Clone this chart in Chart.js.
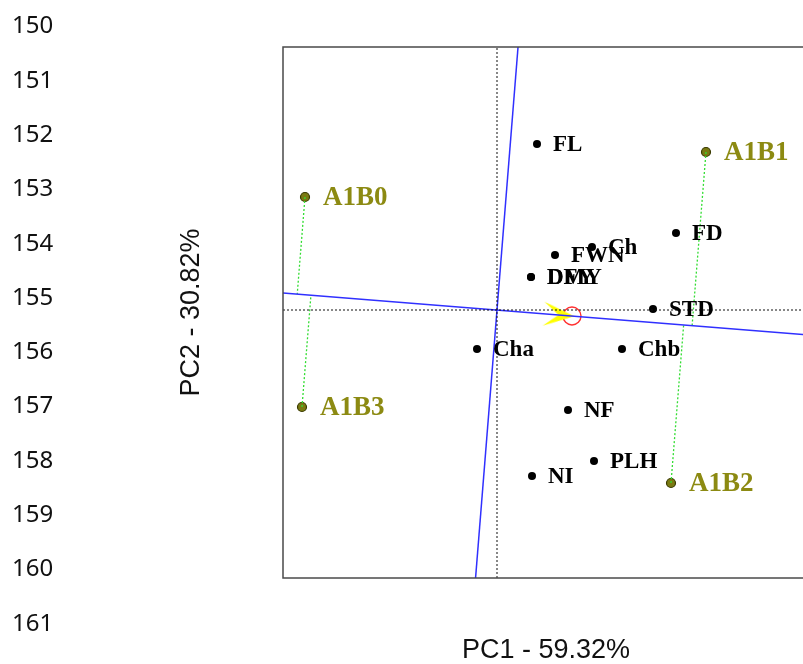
<!DOCTYPE html>
<html>
<head>
<meta charset="utf-8">
<script src="https://cdn.jsdelivr.net/npm/chart.js@4.4.0/dist/chart.umd.min.js"></script>
<style>
html, body { margin: 0; padding: 0; background: #fff; overflow: hidden; }
#wrap { position: relative; width: 803px; height: 664px; overflow: hidden; }
#biplot { position: absolute; left: 0; top: 0; }
.lineno { position: absolute; left: 12px; font-family: 'Noto Sans'; font-size: 24px; line-height: 24px; color: #111; }
</style>
</head>
<body>
<div id="wrap">
	<canvas id="biplot" width="809" height="664"></canvas>
</div>
<script>
// document line numbers down the left margin
var lineNumbers = [150, 151, 152, 153, 154, 155, 156, 157, 158, 159, 160, 161];

// traits (black points)
var traitNames = ['FL', 'FD', 'FWN', 'Ch', 'DMY', 'DFY', 'STD', 'Cha', 'Chb', 'NF', 'PLH', 'NI'];
var traitPC1   = [0.40, 1.79, 0.58, 0.95, 0.34, 0.34, 1.56, -0.20, 1.25, 0.71, 0.97, 0.35];
var traitPC2   = [1.66, 0.77, 0.55, 0.63, 0.33, 0.33, 0.01, -0.39, -0.39, -1.00, -1.51, -1.66];

// environments (olive points)
var envNames = ['A1B0', 'A1B1', 'A1B2', 'A1B3'];
var envPC1   = [-1.92, 2.09, 1.74, -1.95];
var envPC2   = [1.13, 1.58, -1.73, -0.97];

// average environment and the arrow sitting on the ATC line
var avgEnv  = [0.75, -0.06];
var arrowAt = [0.62, -0.05];

var pc1Range = [-2.14, 3.12];
var pc2Range = [-2.68, 2.63];
var pc1Title = 'PC1 - 59.32%';
var pc2Title = 'PC2 - 30.82%';

// line numbers as plain text
var wrap = document.getElementById('wrap');
for (var i = 0; i < lineNumbers.length; i++) {
	var d = document.createElement('div');
	d.className = 'lineno';
	d.style.top = (25 + i * 54.3 - 12.7) + 'px';
	d.textContent = lineNumbers[i];
	wrap.appendChild(d);
}

var aa = avgEnv[0] * avgEnv[0] + avgEnv[1] * avgEnv[1];
function project(u, v) {
	var t = (u * avgEnv[0] + v * avgEnv[1]) / aa;
	return {x: t * avgEnv[0], y: t * avgEnv[1]};
}

function pts(xs, ys) {
	var out = [];
	for (var i = 0; i < xs.length; i++) out.push({x: xs[i], y: ys[i]});
	return out;
}

function lineSet(data, color, width, dash) {
	return {
		type: 'line', data: data, showLine: true, fill: false,
		borderColor: color, borderWidth: width, borderDash: dash || [],
		pointRadius: 0, tension: 0
	};
}

// notched yellow arrow head used as a point style
var arrowImg = document.createElement('canvas');
arrowImg.width = 31;
arrowImg.height = 24;
var actx = arrowImg.getContext('2d');
actx.fillStyle = '#ffff00';
actx.beginPath();
actx.moveTo(31, 12);
actx.lineTo(0, 0);
actx.lineTo(15, 12);
actx.lineTo(0, 24);
actx.closePath();
actx.fill();

var datasets = [];

// dotted origin axes
datasets.push(lineSet([{x: 0, y: pc2Range[0]}, {x: 0, y: pc2Range[1]}], '#111', 1, [2, 2]));
datasets.push(lineSet([{x: pc1Range[0], y: 0}, {x: pc1Range[1], y: 0}], '#111', 1, [2, 2]));

// ATC abscissa and ordinate
var k = avgEnv[1] / avgEnv[0];
datasets.push(lineSet([{x: pc1Range[0], y: pc1Range[0] * k}, {x: pc1Range[1], y: pc1Range[1] * k}], '#3030ff', 1.5));
datasets.push(lineSet([{x: -pc2Range[0] * k, y: pc2Range[0]}, {x: -pc2Range[1] * k, y: pc2Range[1]}], '#3030ff', 1.5));

// projections of environments on the ATC
for (var e = 0; e < envNames.length; e++) {
	var p = project(envPC1[e], envPC2[e]);
	datasets.push(lineSet([{x: envPC1[e], y: envPC2[e]}, p], '#33dd33', 1.3, [2, 2]));
}

datasets.push({
	type: 'scatter', data: pts(traitPC1, traitPC2),
	pointRadius: 4, backgroundColor: '#000', borderColor: '#000', borderWidth: 0,
	names: traitNames, labelFont: 'bold 23px "Liberation Serif"', labelColor: '#000', labelGap: 16
});

datasets.push({
	type: 'scatter', data: pts(envPC1, envPC2),
	pointRadius: 4.5, backgroundColor: '#7a7a12', borderColor: '#3a3a00', borderWidth: 1.2,
	names: envNames, labelFont: 'bold 27px "Liberation Serif"', labelColor: '#8c8a12', labelGap: 18
});

// yellow arrow pointing to average environment, turned along the ATC
datasets.push({
	type: 'scatter', data: [{x: arrowAt[0], y: arrowAt[1]}],
	pointStyle: arrowImg, rotation: Math.atan2(-avgEnv[1], avgEnv[0]) * 180 / Math.PI
});

// red circle = average environment
datasets.push({
	type: 'scatter', data: [{x: avgEnv[0], y: avgEnv[1]}],
	pointRadius: 9, backgroundColor: 'rgba(0,0,0,0)', borderColor: '#ff3030', borderWidth: 1.4
});

var labelPlugin = {
	id: 'pointLabels',
	afterDatasetsDraw: function(chart) {
		var ctx = chart.ctx;
		chart.data.datasets.forEach(function(ds, i) {
			if (!ds.names) return;
			var meta = chart.getDatasetMeta(i);
			ctx.save();
			ctx.font = ds.labelFont;
			ctx.fillStyle = ds.labelColor;
			ctx.textBaseline = 'middle';
			meta.data.forEach(function(pt, j) {
				ctx.fillText(ds.names[j], pt.x + ds.labelGap, pt.y + 1);
			});
			ctx.restore();
		});
	}
};

var framePlugin = {
	id: 'frame',
	afterDraw: function(chart) {
		var c = chart.chartArea, ctx = chart.ctx;
		ctx.save();
		ctx.strokeStyle = '#4a4a4a';
		ctx.lineWidth = 1.5;
		ctx.strokeRect(c.left, c.top, c.right - c.left, c.bottom - c.top);
		ctx.restore();
	}
};

new Chart(document.getElementById('biplot'), {
	type: 'scatter',
	data: {datasets: datasets},
	options: {
		responsive: false,
		animation: false,
		devicePixelRatio: 1,
		layout: {autoPadding: false, padding: {top: 47, left: 0, right: 0, bottom: 0}},
		plugins: {legend: {display: false}, tooltip: {enabled: false}},
		scales: {
			x: {
				type: 'linear', min: pc1Range[0], max: pc1Range[1],
				ticks: {display: false}, grid: {display: false, drawTicks: false}, border: {display: false},
				title: {
					display: true, text: pc1Title, color: '#111',
					font: {family: 'Liberation Sans', size: 27, lineHeight: 1},
					padding: {top: 59, bottom: 0}
				}
			},
			y: {
				type: 'linear', min: pc2Range[0], max: pc2Range[1],
				ticks: {display: false}, grid: {display: false, drawTicks: false}, border: {display: false},
				title: {
					display: true, text: pc2Title, color: '#111',
					font: {family: 'Liberation Sans', size: 27, lineHeight: 1},
					padding: {top: 178.5, bottom: 77.5}
				}
			}
		}
	},
	plugins: [labelPlugin, framePlugin]
});
</script>
</body>
</html>
